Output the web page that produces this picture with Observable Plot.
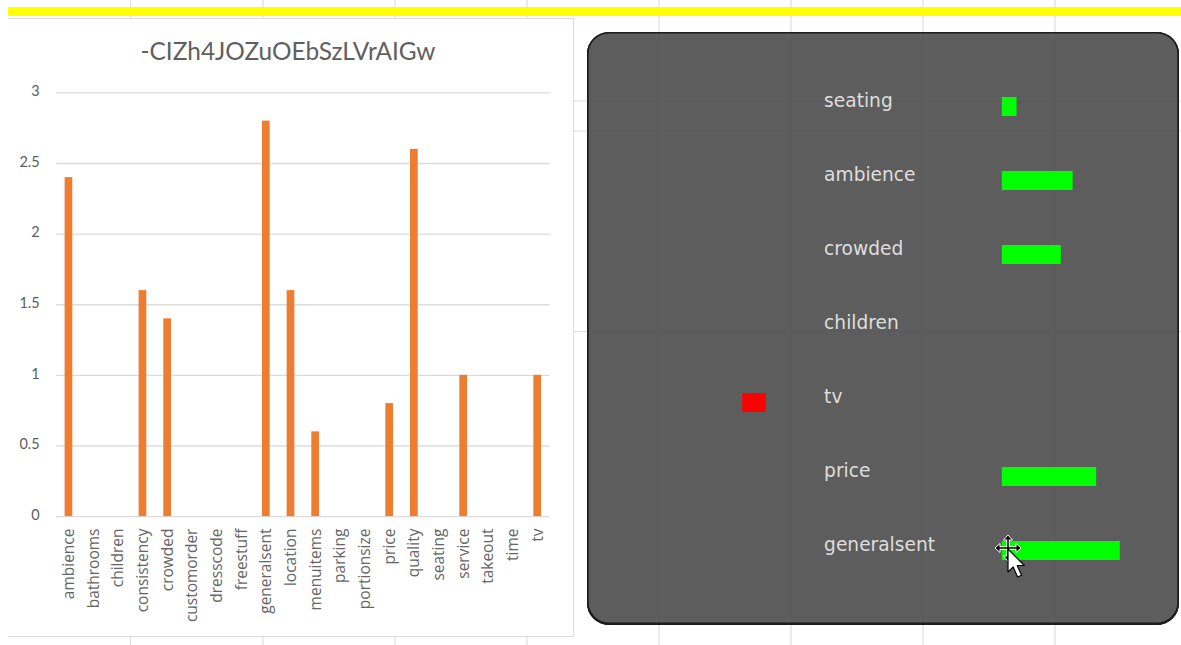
<!DOCTYPE html>
<html>
<head>
<meta charset="utf-8">
<script src="https://cdn.jsdelivr.net/npm/d3@7"></script>
<script src="https://cdn.jsdelivr.net/npm/@observablehq/plot@0.6"></script>
<style>
  html, body { margin: 0; padding: 0; background: #fff; }
  #page { position: relative; width: 1181px; height: 645px; overflow: hidden; }
  #page > * { position: absolute; }
  svg { display: block; background: transparent !important; }
  #sheet { left: 0; top: 0; }
  #ribbon { left: 8px; top: 7px; width: 1173px; height: 9px; background: #ffff00; }
  #chart { left: 8px; top: 18px; width: 565px; height: 617px; background: #fff;
           border-top: 1.5px solid #dcdcdc; border-right: 1.5px solid #dcdcdc; border-bottom: 1.5px solid #dcdcdc; }
  #chart svg { position: absolute; left: 0; top: 0; }
  #title { position: absolute; left: 0; width: 560px; top: 17px; text-align: center;
           font: 24.4px Lato, sans-serif; color: #5f5f5f; }
  #panel { left: 587px; top: 32px; width: 592px; height: 593px; border-radius: 22px;
           background: rgba(75, 75, 75, 0.9);
           box-shadow: inset 0 0 0 1.5px #1c1c1c, inset 0 -1px 0 1.5px #1c1c1c; }
  #cursor { left: 990px; top: 530px; }
</style>
</head>
<body>
<div id="page">
  <div id="sheet"></div>
  <div id="ribbon"></div>
  <div id="chart"><div id="title">-CIZh4JOZuOEbSzLVrAIGw</div></div>
  <div id="panel"></div>
  <svg id="cursor" width="40" height="52" viewBox="0 0 40 52">
    <g stroke="#fff" stroke-width="3.4" stroke-linejoin="round" fill="none">
      <path d="M18 7V29M7 18H29"/>
    </g>
    <g fill="#000" stroke="#fff" stroke-width="1">
      <path d="M18 5l4.5 5h-9z"/><path d="M18 31l4.5-5h-9z"/>
      <path d="M5 18l5-4.5v9z"/><path d="M31 18l-5-4.5v9z"/>
    </g>
    <path d="M18 7V29M7 18H29" stroke="#000" stroke-width="1.5"/>
    <path d="M18 19v23l5.2-5 4.4 10 4-1.7-4.4-9.8h7.2z" fill="#fff" stroke="#000" stroke-width="1.2" stroke-linejoin="round"/>
  </svg>
</div>
<script>
// Worksheet cell boundaries visible around the two floating objects
const sheetColumns = [130, 262.5, 394.5, 526.5, 658.5, 790.5, 922.5, 1054.5];
const sheetRows = [100.5, 130.5, 331];

// Column chart: score per restaurant aspect
const aspects = ["ambience", "bathrooms", "children", "consistency", "crowded", "customorder",
  "dresscode", "freestuff", "generalsent", "location", "menuitems", "parking", "portionsize",
  "price", "quality", "seating", "service", "takeout", "time", "tv"];
const scores = [2.4, 0, 0, 1.6, 1.4, 0, 0, 0, 2.8, 1.6, 0.6, 0, 0, 0.8, 2.6, 0, 1, 0, 0, 1];
const scoreTicks = [0, 0.5, 1, 1.5, 2, 2.5, 3];

// Dark panel: one row per selected aspect, each bar running from start to end
const panelRows = ["seating", "ambience", "crowded", "children", "tv", "price", "generalsent"];
const panelStart = [0, 0, 0, 0, -4.4, 0, 0];
const panelEnd = [0.25, 1.2, 1, 0, -4, 1.6, 2];

const lato = "Lato, sans-serif";
const openSans = "'Open Sans', sans-serif";
const dejavu = "'DejaVu Sans', sans-serif";

// Backdrop with the worksheet grid, in page units
document.getElementById("sheet").append(Plot.plot({
  width: 1181, height: 645, margin: 0,
  x: {domain: [0, 1181], axis: null},
  y: {domain: [645, 0], axis: null},
  marks: [
    Plot.ruleX(sheetColumns, {stroke: "#dedede", strokeWidth: 1.2}),
    Plot.ruleY(sheetRows, {x1: 574, x2: 1181, stroke: "#dedede", strokeWidth: 1.2})
  ]
}));

document.getElementById("chart").append(Plot.plot({
  width: 566, height: 617,
  marginTop: 73.5, marginBottom: 119, marginLeft: 48.2, marginRight: 23.5,
  style: {fontFamily: lato, background: "transparent"},
  x: {domain: aspects, padding: 0, round: false, label: null},
  y: {domain: [0, 3], label: null},
  marks: [
    Plot.ruleY(scoreTicks, {stroke: "#dcdcdc", strokeWidth: 1.4}),
    Plot.barY(aspects, {
      x: d => d, y: (d, i) => scores[i], fill: "#ed7d31", insetLeft: 8.5, insetRight: 8.5
    }),
    Plot.axisY(scoreTicks, {
      anchor: "left", tickSize: 0, tickPadding: 17, label: null, dy: -1.5,
      tickFormat: d3.format("~g"), fontSize: 14.5, fill: "#5d5d5d"
    }),
    Plot.axisX({
      tickSize: 0, tickPadding: 12, tickRotate: -90, label: null,
      fontFamily: openSans, fontSize: 15.5, fill: "#666666"
    })
  ]
}));

document.getElementById("panel").append(Plot.plot({
  width: 592, height: 593,
  marginTop: 9, marginBottom: 10, marginLeft: 1.8, marginRight: 0.2,
  style: {background: "transparent"},
  x: {domain: [-7, 3], axis: null},
  y: {domain: panelRows, padding: 0.744, axis: null},
  marks: [
    Plot.barX(panelRows, {
      y: d => d,
      x1: (d, i) => panelStart[i],
      x2: (d, i) => panelEnd[i],
      fill: (d, i) => panelEnd[i] < 0 ? "#ff0000" : "#00ff00"
    }),
    Plot.text(panelRows, {
      y: d => d, x: -3.02, text: d => d, textAnchor: "start", dy: -5.5,
      fontFamily: dejavu, fontSize: 18.6, fill: "#dedede"
    })
  ]
}));
</script>
</body>
</html>
